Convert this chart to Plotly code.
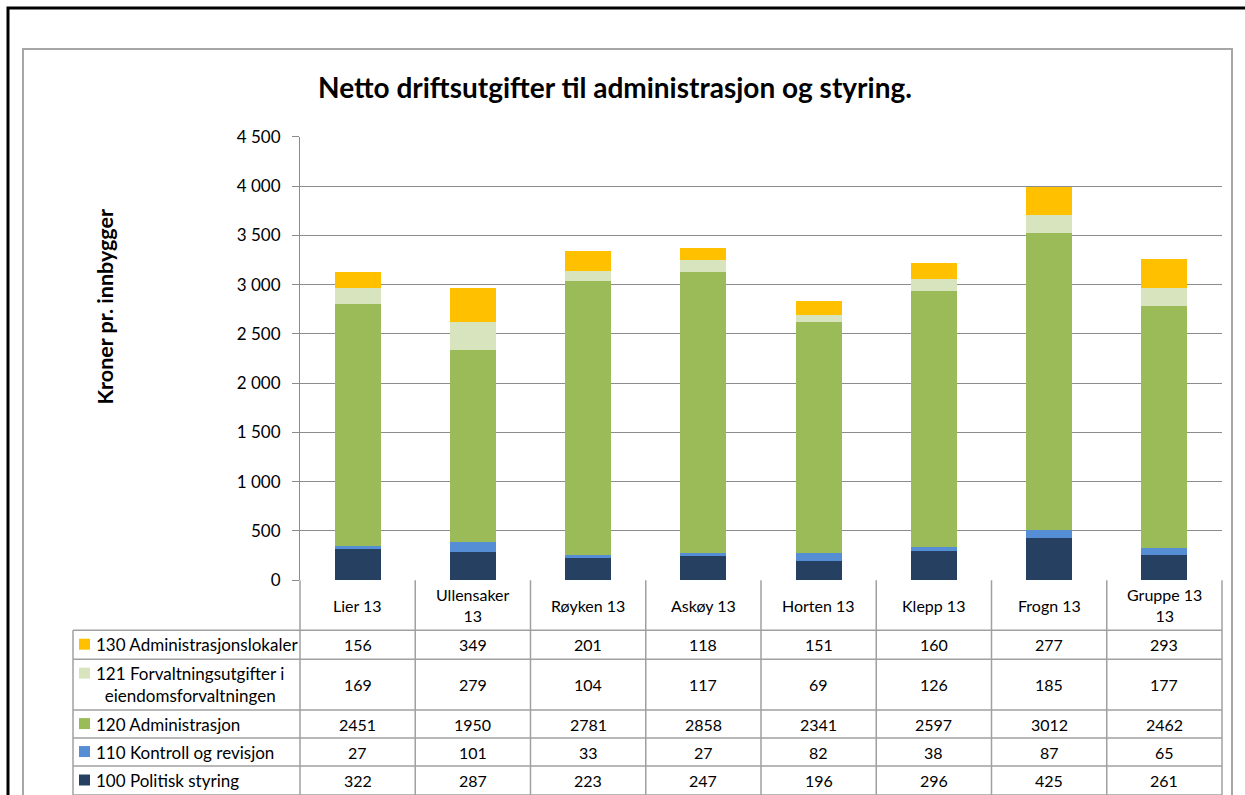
import plotly.graph_objects as go

W, H = 1245, 795

categories = ["Lier 13", "Ullensaker<br>13", "Røyken 13", "Askøy 13", "Horten 13",
              "Klepp 13", "Frogn 13", "Gruppe 13<br>13"]

series_names = ["100 Politisk styring", "110 Kontroll og revisjon", "120 Administrasjon",
                "121 Forvaltningsutgifter i<br>eiendomsforvaltningen", "130 Administrasjonslokaler"]
politisk = [322, 287, 223, 247, 196, 296, 425, 261]
kontroll = [27, 101, 33, 27, 82, 38, 87, 65]
administrasjon = [2451, 1950, 2781, 2858, 2341, 2597, 3012, 2462]
forvaltning = [169, 279, 104, 117, 69, 126, 185, 177]
lokaler = [156, 349, 201, 118, 151, 160, 277, 293]
colors = ["#254061", "#558ED5", "#9BBB59", "#D7E4BD", "#FFC000"]

tick_vals = [0, 500, 1000, 1500, 2000, 2500, 3000, 3500, 4000, 4500]
tick_text = ["0", "500", "1 000", "1 500", "2 000", "2 500", "3 000", "3 500", "4 000", "4 500"]

title = "Netto driftsutgifter til administrasjon og styring."
y_title = "Kroner pr. innbygger"

FONT = "Lato"

# observed: the paper area renders between 10px and 785px of the page
PTOP, PH = 10.0, 775.0

def X(px):
    return px / W

def Y(py):
    return 1 - (py - PTOP) / PH

fig = go.Figure()
data = [politisk, kontroll, administrasjon, forvaltning, lokaler]
xs = list(range(len(categories)))
for name, vals, col in zip(series_names, data, colors):
    fig.add_trace(go.Bar(x=xs, y=vals, name=name, marker=dict(color=col, line=dict(width=0)),
                         width=0.4, showlegend=False))

shapes = []
annotations = []
grid_col = "#A0A0A0"

# outer frames
shapes.append(dict(type="rect", xref="paper", yref="paper", x0=X(8), x1=X(1260), y0=Y(820), y1=Y(7),
                   line=dict(color="black", width=3), layer="below"))
shapes.append(dict(type="rect", xref="paper", yref="paper", x0=X(23), x1=X(1232), y0=Y(820), y1=Y(48),
                   line=dict(color="#A6A6A6", width=2), layer="below"))

# table geometry
row_lines = [630, 659, 710, 738, 766, 795]
table_left = 73
col_edges = [300 + i * (922 / 8) for i in range(9)]
for xe in col_edges:
    shapes.append(dict(type="line", xref="paper", yref="paper", x0=X(xe), x1=X(xe), y0=Y(580), y1=Y(810),
                       line=dict(color=grid_col, width=1.5)))
shapes.append(dict(type="line", xref="paper", yref="paper", x0=X(table_left), x1=X(table_left),
                   y0=Y(630), y1=Y(810), line=dict(color=grid_col, width=1.5)))
for ry in row_lines:
    shapes.append(dict(type="line", xref="paper", yref="paper", x0=X(table_left), x1=X(1222), y0=Y(ry), y1=Y(ry),
                       line=dict(color=grid_col, width=1.5)))

# header category labels
for i, c in enumerate(categories):
    annotations.append(dict(x=i, xref="x", y=Y(605), yref="paper", text=c, showarrow=False,
                            font=dict(family=FONT, size=16, color="black"), xanchor="center", yanchor="middle"))

# rows (top to bottom: 130, 121, 120, 110, 100)
row_centers = [(row_lines[k] + row_lines[k + 1]) / 2 for k in range(5)]
order = [4, 3, 2, 1, 0]
for r, si in enumerate(order):
    yc = row_centers[r]
    off = -11 if si == 3 else 0
    shapes.append(dict(type="rect", xref="paper", yref="paper", x0=X(79), x1=X(90), y0=Y(yc + 5 + off),
                       y1=Y(yc - 6 + off), fillcolor=colors[si], line=dict(width=0)))
    annotations.append(dict(x=X(94), xref="paper", y=Y(yc), yref="paper", text=series_names[si], showarrow=False,
                            font=dict(family=FONT, size=17, color="black"), xanchor="left", yanchor="middle",
                            align="center"))
    for i, v in enumerate(data[si]):
        annotations.append(dict(x=i, xref="x", y=Y(yc), yref="paper", text=str(v), showarrow=False,
                                font=dict(family=FONT, size=16, color="black"), xanchor="center", yanchor="middle"))

# title
annotations.append(dict(x=X(615), xref="paper", y=Y(86), yref="paper", text="<b>" + title + "</b>", showarrow=False,
                        font=dict(family=FONT, size=28, color="black"), xanchor="center", yanchor="middle"))
# y title
annotations.append(dict(x=X(105), xref="paper", y=Y(306), yref="paper", text="<b>" + y_title + "</b>", showarrow=False,
                        textangle=-90, font=dict(family=FONT, size=21.5, color="black"),
                        xanchor="center", yanchor="middle"))

fig.update_layout(
    width=W, height=H,
    margin=dict(l=0, r=0, t=0, b=0),
    paper_bgcolor="white", plot_bgcolor="white",
    barmode="stack", bargap=0.6,
    shapes=shapes, annotations=annotations,
    xaxis=dict(domain=[X(300), X(1222)], range=[-0.5, 7.5], showticklabels=False, showgrid=False,
               zeroline=False, ticks="", showline=False, fixedrange=True),
    yaxis=dict(domain=[Y(580), Y(136)], range=[0, 4500], tickvals=tick_vals, ticktext=tick_text,
               showgrid=True, gridcolor="#8C8C8C", gridwidth=1, zeroline=False,
               showline=True, linecolor="#8C8C8C", linewidth=1, ticks="outside", ticklen=7,
               tickcolor="#8C8C8C", tickfont=dict(family=FONT, size=17, color="black"), ticklabelstandoff=8),
)

post = ("document.body.style.margin='0';document.body.style.overflow='hidden';"
        "var gd=document.getElementById('{plot_id}');gd.style.position='fixed';"
        "gd.style.top='0px';gd.style.left='0px';")
fig.write_html("out.html", config={"displayModeBar": False}, post_script=post)
